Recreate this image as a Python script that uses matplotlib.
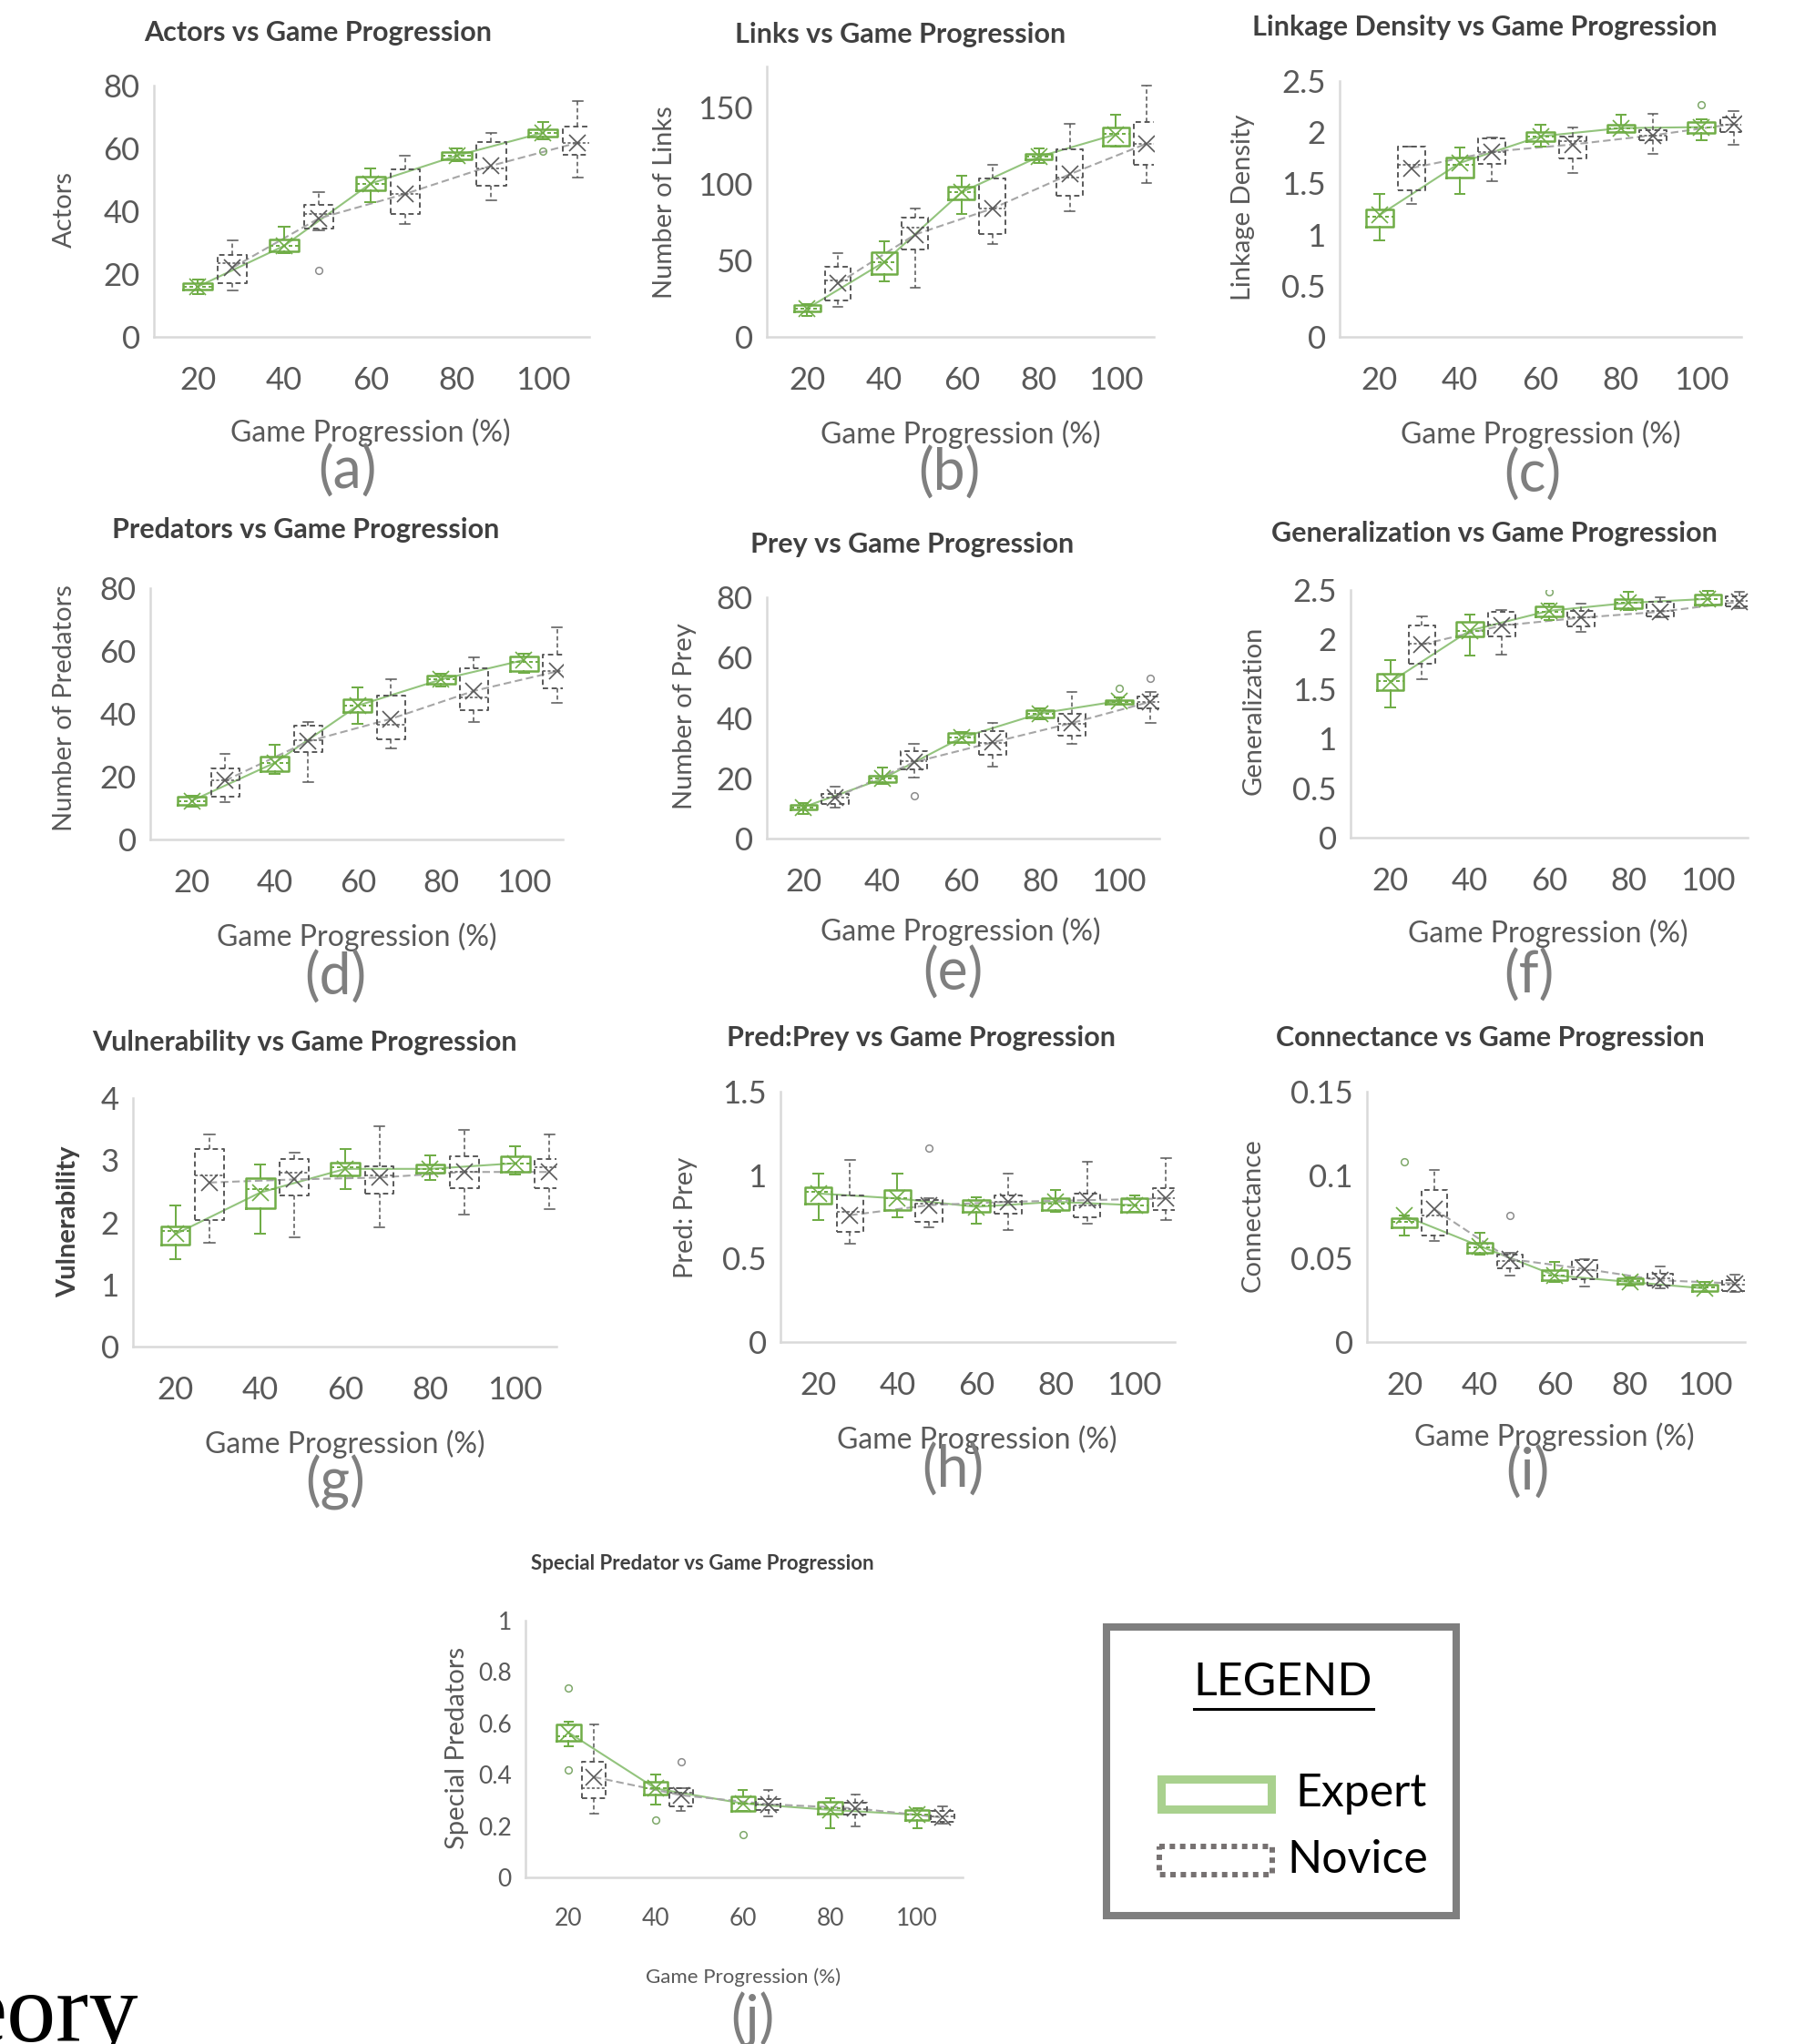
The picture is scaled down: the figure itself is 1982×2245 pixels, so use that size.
import matplotlib
matplotlib.use("Agg")
import matplotlib.pyplot as plt
from matplotlib.patches import Rectangle

plt.rcParams['font.family'] = ['Lato', 'DejaVu Sans']

stages = [20, 40, 60, 80, 100]

# one row per stage: (whisker low, q1, median, q3, whisker high, mean)
actors_expert = [(13.5, 15.1, 16.0, 17.1, 18.3, 16.0),
                 (26.7, 27.3, 29.0, 30.9, 35.0, 29.0),
                 (43.0, 46.8, 48.8, 51.0, 53.5, 48.8),
                 (55.9, 56.6, 57.7, 58.7, 60.0, 57.7),
                 (63.0, 63.9, 65.0, 66.2, 68.4, 65.0)]
actors_novice = [(14.8, 17.1, 23.4, 26.0, 30.6, 22.0),
                 (34.0, 34.5, 39.0, 42.0, 46.0, 37.7),
                 (35.8, 39.0, 45.5, 53.3, 57.7, 45.5),
                 (43.6, 48.1, 53.5, 62.1, 64.9, 54.5),
                 (50.7, 57.9, 61.8, 67.0, 75.0, 61.8)]
actors_out_expert = [(100, 59.2)]
actors_out_novice = [(40, 21.3)]

links_expert = [(13.8, 16.4, 18.5, 20.6, 21.3, 18.5),
                (36.2, 41.0, 49.0, 55.7, 62.8, 49.0),
                (80.4, 90.0, 94.7, 98.3, 105.3, 94.7),
                (113.8, 116.0, 117.9, 119.6, 123.4, 117.9),
                (124.5, 124.9, 133.0, 137.2, 145.7, 132.6)]
links_novice = [(19.8, 24.0, 37.0, 45.7, 54.7, 35.0),
                (31.9, 57.0, 71.3, 78.3, 84.0, 67.0),
                (60.6, 67.4, 84.0, 103.6, 112.8, 84.0),
                (82.3, 92.6, 104.3, 122.8, 139.4, 106.4),
                (100.6, 112.8, 126.6, 140.4, 164.5, 126.6)]
links_out_expert = []
links_out_novice = []

density_expert = [(0.94, 1.08, 1.17, 1.25, 1.40, 1.19),
                  (1.40, 1.56, 1.68, 1.75, 1.85, 1.70),
                  (1.86, 1.91, 1.96, 2.00, 2.07, 1.96),
                  (2.00, 2.00, 2.04, 2.07, 2.17, 2.04),
                  (1.92, 1.99, 2.05, 2.10, 2.13, 2.05)]
density_novice = [(1.30, 1.43, 1.68, 1.86, 1.86, 1.65),
                  (1.52, 1.69, 1.81, 1.94, 1.95, 1.81),
                  (1.60, 1.74, 1.91, 1.96, 2.05, 1.88),
                  (1.79, 1.92, 1.97, 2.02, 2.18, 1.97),
                  (1.88, 2.00, 2.07, 2.14, 2.21, 2.08)]
density_out_expert = [(100, 2.27)]
density_out_novice = []

predators_expert = [(10.4, 10.9, 12.3, 13.5, 14.0, 12.3),
                    (20.8, 21.6, 24.4, 26.5, 30.1, 24.4),
                    (36.9, 40.7, 42.6, 44.5, 48.3, 42.6),
                    (48.8, 49.7, 50.9, 52.2, 52.8, 50.9),
                    (53.0, 53.5, 56.6, 58.4, 59.2, 57.1)]
predators_novice = [(11.9, 13.5, 18.9, 22.6, 27.2, 18.7),
                    (18.2, 27.8, 31.7, 36.2, 37.4, 31.2),
                    (28.9, 31.9, 36.4, 45.9, 51.1, 38.4),
                    (37.4, 41.2, 45.2, 54.5, 57.9, 47.3),
                    (43.4, 48.1, 53.5, 58.9, 67.5, 53.5)]
predators_out_expert = []
predators_out_novice = []

prey_expert = [(8.3, 9.7, 10.4, 11.25, 11.8, 10.4),
               (18.0, 18.75, 19.8, 20.8, 23.4, 19.8),
               (31.6, 32.1, 33.4, 34.9, 35.2, 33.4),
               (39.6, 40.1, 41.5, 42.5, 43.3, 41.5),
               (44.3, 44.6, 45.2, 45.8, 46.7, 45.6)]
prey_novice = [(10.2, 11.5, 13.5, 14.9, 17.3, 13.5),
               (20.1, 22.9, 25.8, 29.0, 31.3, 25.3),
               (24.0, 27.9, 31.6, 35.7, 38.3, 31.9),
               (31.25, 34.2, 38.0, 41.5, 48.75, 38.3),
               (38.3, 43.3, 45.4, 47.2, 48.75, 45.4)]
prey_out_expert = [(100, 49.8)]
prey_out_novice = [(40, 14.2), (100, 53.2)]

general_expert = [(1.31, 1.49, 1.58, 1.65, 1.79, 1.57),
                  (1.84, 2.03, 2.09, 2.18, 2.25, 2.09),
                  (2.20, 2.23, 2.28, 2.33, 2.36, 2.29),
                  (2.30, 2.32, 2.37, 2.41, 2.48, 2.37),
                  (2.34, 2.35, 2.41, 2.45, 2.49, 2.41)]
general_novice = [(1.60, 1.76, 1.96, 2.14, 2.23, 1.95),
                  (1.85, 2.03, 2.15, 2.28, 2.30, 2.14),
                  (2.08, 2.13, 2.22, 2.29, 2.36, 2.22),
                  (2.22, 2.23, 2.29, 2.38, 2.43, 2.28),
                  (2.32, 2.33, 2.39, 2.44, 2.48, 2.38)]
general_out_expert = [(60, 2.48)]
general_out_novice = []

vuln_expert = [(1.41, 1.64, 1.86, 1.93, 2.27, 1.81),
               (1.81, 2.23, 2.54, 2.71, 2.93, 2.48),
               (2.54, 2.75, 2.88, 2.96, 3.18, 2.86),
               (2.68, 2.80, 2.86, 2.93, 3.07, 2.86),
               (2.77, 2.81, 2.95, 3.06, 3.22, 2.95)]
vuln_novice = [(1.67, 2.04, 2.75, 3.18, 3.42, 2.64),
               (1.76, 2.43, 2.80, 3.02, 3.12, 2.69),
               (1.92, 2.46, 2.75, 2.90, 3.55, 2.72),
               (2.12, 2.55, 2.82, 3.06, 3.48, 2.81),
               (2.21, 2.55, 2.88, 3.02, 3.42, 2.81)]
vuln_out_expert = []
vuln_out_novice = []

ratio_expert = [(0.73, 0.83, 0.90, 0.93, 1.01, 0.89),
                (0.75, 0.79, 0.86, 0.91, 1.01, 0.86),
                (0.71, 0.78, 0.82, 0.85, 0.87, 0.81),
                (0.78, 0.79, 0.83, 0.86, 0.91, 0.84),
                (0.78, 0.78, 0.82, 0.86, 0.88, 0.82)]
ratio_novice = [(0.59, 0.66, 0.78, 0.88, 1.09, 0.76),
                (0.69, 0.72, 0.83, 0.85, 0.86, 0.82),
                (0.67, 0.77, 0.84, 0.88, 1.01, 0.84),
                (0.71, 0.75, 0.82, 0.89, 1.08, 0.85),
                (0.73, 0.79, 0.86, 0.92, 1.10, 0.86)]
ratio_out_expert = []
ratio_out_novice = [(40, 1.16)]

connect_expert = [(0.0637, 0.069, 0.072, 0.074, 0.0756, 0.0756),
                  (0.0522, 0.0536, 0.0569, 0.0594, 0.0653, 0.0575),
                  (0.036, 0.037, 0.0399, 0.0429, 0.0481, 0.0399),
                  (0.034, 0.0347, 0.0364, 0.038, 0.039, 0.036),
                  (0.0302, 0.0308, 0.0325, 0.0345, 0.036, 0.0321)]
connect_novice = [(0.0608, 0.0637, 0.076, 0.091, 0.103, 0.0795),
                  (0.0399, 0.0442, 0.0487, 0.0522, 0.0536, 0.0497),
                  (0.0335, 0.0374, 0.0429, 0.0491, 0.0497, 0.0438),
                  (0.0321, 0.0337, 0.038, 0.0409, 0.0452, 0.037),
                  (0.0302, 0.0308, 0.0341, 0.037, 0.0405, 0.0351)]
connect_out_expert = [(20, 0.108)]
connect_out_novice = [(40, 0.076)]

special_expert = [(0.51, 0.532, 0.549, 0.594, 0.605, 0.564),
                  (0.285, 0.323, 0.346, 0.374, 0.401, 0.346),
                  (0.259, 0.259, 0.288, 0.314, 0.34, 0.288),
                  (0.192, 0.247, 0.269, 0.295, 0.31, 0.263),
                  (0.192, 0.224, 0.246, 0.263, 0.269, 0.244)]
special_novice = [(0.25, 0.31, 0.346, 0.449, 0.594, 0.391),
                  (0.259, 0.278, 0.33, 0.346, 0.346, 0.32),
                  (0.237, 0.263, 0.282, 0.305, 0.34, 0.285),
                  (0.199, 0.246, 0.267, 0.292, 0.323, 0.269),
                  (0.209, 0.215, 0.237, 0.259, 0.276, 0.233)]
special_out_expert = [(20, 0.737), (20, 0.42), (40, 0.224), (60, 0.167)]
special_out_novice = [(40, 0.449)]

W, H = 1982, 2245
GREEN = '#70ad47'
GREEN_LINE = '#93c47d'
GRAY = '#595959'
TEXT = '#595959'

fig = plt.figure(figsize=(W / 100, H / 100), dpi=100)
canvas = fig.add_axes([0, 0, 1, 1], zorder=5)
canvas.set_xlim(0, W)
canvas.set_ylim(H, 0)
canvas.axis('off')


def draw_group(ax, rows, outliers, offset, width, color, ls, lw, line_color, line_ls, flier_color):
    stats = []
    for st, r in zip(stages, rows):
        lo, q1, med, q3, hi, mean = r
        stats.append(dict(whislo=lo, q1=q1, med=med, q3=q3, whishi=hi, mean=mean,
                          fliers=[v for s, v in outliers if s == st]))
    pos = [s + offset for s in stages]
    ax.bxp(stats, positions=pos, widths=width, capwidths=width * 0.35,
           showmeans=True, manage_ticks=False,
           boxprops=dict(color=color, linestyle=ls, linewidth=lw),
           whiskerprops=dict(color=color, linestyle=ls, linewidth=lw * 0.8),
           capprops=dict(color=color, linewidth=lw * 0.8),
           medianprops=dict(color=color, linestyle=(0, (2, 1.5)), linewidth=lw * 0.8),
           meanprops=dict(marker='x', markeredgecolor=color, markersize=13, markeredgewidth=1.2),
           flierprops=dict(marker='o', markerfacecolor='none', markeredgecolor=flier_color,
                           markersize=5.5, markeredgewidth=1.1))
    ax.plot(pos, [r[5] for r in rows], color=line_color, linestyle=line_ls, linewidth=1.5, zorder=1)


# layout in pixels: axes box (left, top, right, bottom) and text anchors
panels = [
    dict(title='Actors vs Game Progression', ylabel='Actors', letter='(a)',
         data=(actors_expert, actors_novice, actors_out_expert, actors_out_novice),
         ymax=80, yticks=[0, 20, 40, 60, 80], box=(169, 94, 647, 370), xlim=(9.8, 110.7),
         t_xy=(349, 36), y_xy=(71, 230), x_xy=(407, 475), l_xy=(381, 518)),
    dict(title='Links vs Game Progression', ylabel='Number of Links', letter='(b)',
         data=(links_expert, links_novice, links_out_expert, links_out_novice),
         ymax=177, yticks=[0, 50, 100, 150], box=(842, 73, 1267, 370), xlim=(9.6, 109.8),
         t_xy=(989, 38), y_xy=(730, 222), x_xy=(1055, 477), l_xy=(1042, 520)),
    dict(title='Linkage Density vs Game Progression', ylabel='Linkage Density', letter='(c)',
         data=(density_expert, density_novice, density_out_expert, density_out_novice),
         ymax=2.5, yticks=[0, 0.5, 1, 1.5, 2, 2.5], box=(1471, 89, 1912, 370), xlim=(10.1, 109.9),
         t_xy=(1630, 30), y_xy=(1365, 228), x_xy=(1692, 477), l_xy=(1683, 522)),
    dict(title='Predators vs Game Progression', ylabel='Number of Predators', letter='(d)',
         data=(predators_expert, predators_novice, predators_out_expert, predators_out_novice),
         ymax=80, yticks=[0, 20, 40, 60, 80], box=(165, 646, 618, 922), xlim=(10, 109.4),
         t_xy=(336, 582), y_xy=(71, 778), x_xy=(392, 1029), l_xy=(368, 1074)),
    dict(title='Prey vs Game Progression', ylabel='Number of Prey', letter='(e)',
         data=(prey_expert, prey_novice, prey_out_expert, prey_out_novice),
         ymax=80, yticks=[0, 20, 40, 60, 80], box=(842, 656, 1273, 921), xlim=(10.7, 110.2),
         t_xy=(1002, 598), y_xy=(752, 787), x_xy=(1055, 1023), l_xy=(1046, 1069)),
    dict(title='Generalization vs Game Progression', ylabel='Generalization', letter='(f)',
         data=(general_expert, general_novice, general_out_expert, general_out_novice),
         ymax=2.5, yticks=[0, 0.5, 1, 1.5, 2, 2.5], box=(1483, 648, 1919, 920), xlim=(10, 110),
         t_xy=(1641, 586), y_xy=(1377, 780), x_xy=(1700, 1025), l_xy=(1679, 1072)),
    dict(title='Vulnerability vs Game Progression', ylabel='Vulnerability', letter='(g)',
         data=(vuln_expert, vuln_novice, vuln_out_expert, vuln_out_novice),
         ymax=4, yticks=[0, 1, 2, 3, 4], box=(146, 1206, 611, 1479), xlim=(10, 109.7),
         t_xy=(334, 1145), y_xy=(75, 1342), x_xy=(379, 1586), l_xy=(368, 1628), ybold=True),
    dict(title='Pred:Prey vs Game Progression', ylabel='Pred: Prey', letter='(h)',
         data=(ratio_expert, ratio_novice, ratio_out_expert, ratio_out_novice),
         ymax=1.5, yticks=[0, 0.5, 1, 1.5], box=(857, 1199, 1290, 1474), xlim=(10.4, 110.2),
         t_xy=(1012, 1140), y_xy=(753, 1337), x_xy=(1073, 1581), l_xy=(1046, 1615)),
    dict(title='Connectance vs Game Progression', ylabel='Connectance', letter='(i)',
         data=(connect_expert, connect_novice, connect_out_expert, connect_out_novice),
         ymax=0.15, yticks=[0, 0.05, 0.1, 0.15], box=(1501, 1199, 1916, 1474), xlim=(10, 110.6),
         t_xy=(1636, 1140), y_xy=(1376, 1335), x_xy=(1707, 1578), l_xy=(1677, 1618)),
    dict(title='Special Predator vs Game Progression', ylabel='Special Predators', letter='(j)',
         data=(special_expert, special_novice, special_out_expert, special_out_novice),
         ymax=1, yticks=[0, 0.2, 0.4, 0.6, 0.8, 1], box=(577, 1780, 1057, 2062), xlim=(10.1, 110.4),
         t_xy=(771, 1718), y_xy=(502, 1920), x_xy=(816, 2172), l_xy=(826, 2218), narrow=True),
]

for p in panels:
    l, t, r, b = p['box']
    ax = fig.add_axes([l / W, 1 - b / H, (r - l) / W, (b - t) / H])
    narrow = p.get('narrow', False)
    offset, width = (5.8, 5.5) if narrow else (8.0, 6.8)
    exp_rows, nov_rows, exp_out, nov_out = p['data']
    draw_group(ax, exp_rows, exp_out, 0, width, GREEN, '-', 1.8, GREEN_LINE, '-', '#7fa86a')
    draw_group(ax, nov_rows, nov_out, offset, width, GRAY, (0, (3, 2)), 1.4, '#a6a6a6', (0, (4, 2)), '#8c8c8c')

    ax.set_xlim(*p['xlim'])
    ax.set_ylim(0, p['ymax'])
    ax.set_xticks(stages)
    ax.set_xticklabels([str(s) for s in stages])
    ax.set_yticks(p['yticks'])
    ax.set_yticklabels(['{:g}'.format(v) for v in p['yticks']])
    ax.patch.set_alpha(0)
    for side in ['top', 'right']:
        ax.spines[side].set_visible(False)
    for side in ['left', 'bottom']:
        ax.spines[side].set_color('#d9d9d9')
        ax.spines[side].set_linewidth(1.8)
    ax.tick_params(length=0, labelsize=19 if narrow else 25, labelcolor=TEXT)
    ax.tick_params(axis='x', pad=24 if narrow else 23)
    ax.tick_params(axis='y', pad=11)

    canvas.text(*p['t_xy'], p['title'], ha='center', va='center', fontsize=16 if narrow else 22,
                fontweight='bold', color='#404040')
    canvas.text(*p['y_xy'], p['ylabel'], ha='center', va='center', rotation=90, fontsize=21,
                color='#404040' if p.get('ybold') else TEXT,
                fontweight='bold' if p.get('ybold') else 'normal')
    canvas.text(*p['x_xy'], 'Game Progression (%)', ha='center', va='center',
                fontsize=16 if narrow else 23, color=TEXT)
    canvas.text(*p['l_xy'], p['letter'], ha='center', va='center', fontsize=45, color='#7f7f7f')

# legend box
canvas.add_patch(Rectangle((1215, 1787), 384, 317, fill=False, edgecolor='#7f7f7f', linewidth=5.8))
canvas.text(1409, 1848, 'LEGEND', ha='center', va='center', fontsize=36, color='black')
canvas.plot([1311, 1508], [1877, 1877], color='black', linewidth=2.2)
canvas.add_patch(Rectangle((1275, 1954), 121, 33, fill=False, edgecolor='#a9d18e', linewidth=6.5))
canvas.text(1422, 1970, 'Expert', ha='left', va='center', fontsize=36, color='black')
canvas.add_patch(Rectangle((1273, 2028), 124, 31, fill=False, edgecolor='#767171',
                           linewidth=4.3, linestyle=(0, (1, 0.9))))
canvas.text(1413, 2043, 'Novice', ha='left', va='center', fontsize=36, color='black')

# leftover page text at the bottom-left, cut by the edge as in the source
canvas.text(152, 2242, 'eory', ha='right', va='baseline', fontsize=78,
            family='Liberation Serif', color='black')

fig.savefig('out.png', dpi=100)
